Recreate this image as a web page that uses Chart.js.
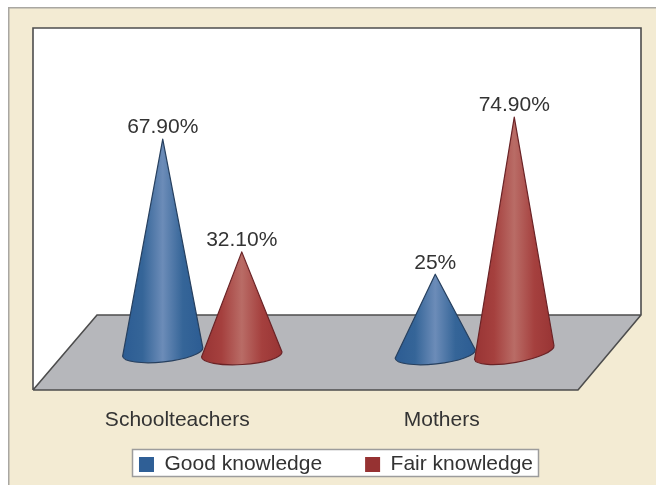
<!DOCTYPE html>
<html><head><meta charset="utf-8">
<style>html,body{margin:0;padding:0;background:#fff}canvas{display:block}</style>
<script src="https://cdn.jsdelivr.net/npm/chart.js@4"></script></head>
<body><canvas id="c" width="656" height="485"></canvas>
<script>
const categories = ["Schoolteachers", "Mothers"];
const seriesNames = ["Good knowledge", "Fair knowledge"];
const goodValues = [67.9, 25];
const fairValues = [32.1, 74.9];
const goodLabels = ["67.90%", "25%"];
const fairLabels = ["32.10%", "74.90%"];
const legendColors = ["#2f5f96", "#963232"];
const coneEdge = [["#2c5c93", "#356598", "#6c8cb8", "#356598", "#2c5c93"], ["#983434", "#a5403e", "#b96c66", "#a5403e", "#983434"]];
const coneLine = ["#27405f", "#6a2326"];
const baseTilt = [[-6, -6], [-3.5, -10]];
const baseShift = [[-1, 1], [1.5, -0.5]];
const tickNudge = [-25, -33];
const allLabels = [goodLabels, fairLabels];
const FONT = "'Liberation Sans', Arial, sans-serif";

const scenePlugin = {
  id: "scene",
  beforeDraw(chart) {
    const c = chart.ctx;
    const xs = chart.scales.x;
    xs.getLabelItems(chart.chartArea).forEach((item, i) => {
      item.options.translation[0] = xs.getPixelForTick(i) + tickNudge[i];
    });
    c.save();
    c.fillStyle = "#ffffff"; c.fillRect(0, 0, 656, 485);
    c.fillStyle = "#f3ebd3"; c.fillRect(8, 7, 648, 478);
    c.fillStyle = "#a9a7a2"; c.fillRect(8, 7, 648, 1.5); c.fillRect(8, 7, 1.5, 478);
    c.fillStyle = "#ffffff";
    c.beginPath(); c.moveTo(33, 28); c.lineTo(641, 28); c.lineTo(641, 315); c.lineTo(578, 390); c.lineTo(33, 390); c.closePath(); c.fill();
    c.fillStyle = "#b6b7bb";
    c.beginPath(); c.moveTo(97, 315); c.lineTo(641, 315); c.lineTo(578, 390); c.lineTo(33, 390); c.closePath(); c.fill();
    c.strokeStyle = "#4d4d4d"; c.lineWidth = 1.6;
    c.beginPath(); c.moveTo(33, 390); c.lineTo(33, 28); c.lineTo(641, 28); c.lineTo(641, 315); c.lineTo(578, 390); c.lineTo(33, 390);
    c.moveTo(33, 390); c.lineTo(97, 315); c.lineTo(641, 315); c.stroke();
    c.fillStyle = "#ffffff"; c.strokeStyle = "#9c9c9c"; c.lineWidth = 1.5;
    c.fillRect(132.5, 449.5, 406, 27); c.strokeRect(132.5, 449.5, 406, 27);
    c.restore();
  },
  afterLayout(chart) {
    const l = chart.legend;
    l.bottom = 485;
    l.left -= 2.5; l.right -= 2.5;
    chart.scales.x.bottom += 30;
  },
  beforeDatasetsDraw(chart) {
    const c = chart.ctx;
    chart.data.datasets.forEach((ds, d) => {
      chart.getDatasetMeta(d).data.forEach((bar, i) => {
        const rx = bar.width / 2 + 0.8, ry = 10;
        const cx = bar.x, cy = bar.base + baseShift[d][i];
        const rot = baseTilt[d][i] * Math.PI / 180;
        const g = c.createLinearGradient(cx - rx, 0, cx + rx, 0);
        coneEdge[d].forEach((col, k) => g.addColorStop(k / 4, col));
        c.save();
        c.beginPath();
        c.moveTo(bar.x, bar.y);
        c.lineTo(cx - rx * Math.cos(rot), cy - rx * Math.sin(rot));
        c.ellipse(cx, cy, rx, ry, rot, Math.PI, 0, true);
        c.closePath();
        c.fillStyle = g; c.fill();
        c.strokeStyle = coneLine[d]; c.lineWidth = 1.2; c.lineJoin = "round"; c.stroke();
        c.restore();
      });
    });
    c.save();
    c.font = "21px " + FONT; c.fillStyle = "#333333"; c.textAlign = "center"; c.textBaseline = "middle";
    chart.data.datasets.forEach((ds, d) => {
      chart.getDatasetMeta(d).data.forEach((bar, i) => c.fillText(allLabels[d][i], bar.x, bar.y - 11.5));
    });
    c.restore();
    return false;
  }
};

new Chart(document.getElementById("c"), {
  type: "bar",
  data: {
    labels: categories,
    datasets: [
      { label: seriesNames[0], data: goodValues, backgroundColor: legendColors[0], borderColor: legendColors[0] },
      { label: seriesNames[1], data: fairValues, backgroundColor: legendColors[1], borderColor: legendColors[1] }
    ]
  },
  options: {
    responsive: false, animation: false,
    layout: { padding: { left: 66, right: 45, top: 38, bottom: 0 } },
    datasets: { bar: { categoryPercentage: 0.58, barPercentage: 1 } },
    scales: {
      x: {
        grid: { display: false }, border: { display: false },
        afterFit: s => { s.height = 58; },
        ticks: { color: "#333333", font: { size: 21, family: FONT }, padding: 47, maxRotation: 0, autoSkip: false }
      },
      y: { display: false, min: 0, max: 100 }
    },
    plugins: {
      tooltip: { enabled: false },
      legend: {
        position: "bottom",
        labels: { color: "#333333", font: { size: 21, family: FONT }, boxWidth: 15, boxHeight: 15, padding: 43, borderWidth: 0 }
      }
    }
  },
  plugins: [scenePlugin]
});
</script></body></html>
